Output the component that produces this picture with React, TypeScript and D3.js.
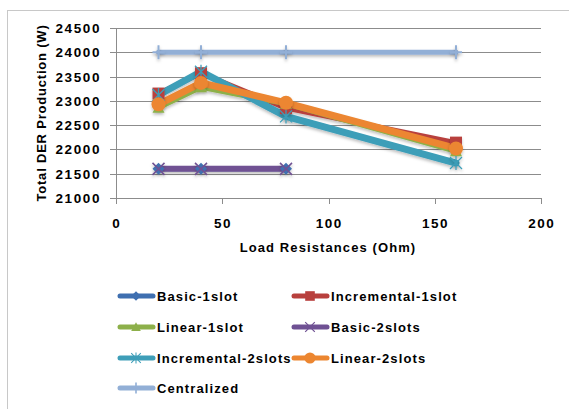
import React from "react";
import * as d3 from "d3";

const resistances = [20, 40, 80, 160];
const basic1 = [21600, 21600, 21600];
const incremental1 = [23150, 23570, 22850, 22140];
const linear1 = [22860, 23280, 22940, 21960];
const basic2 = [21600, 21600, 21600];
const incremental2 = [23120, 23600, 22680, 21720];
const linear2 = [22930, 23370, 22960, 22020];
const centralized = [24000, 24000, 24000, 24000];

const xTicks = [0, 50, 100, 150, 200];
const yTicks = [21000, 21500, 22000, 22500, 23000, 23500, 24000, 24500];

type Series = { name: string; values: number[]; color: string; width: number; marker: string };

const series: Series[] = [
  { name: "Basic-1slot", values: basic1, color: "#3F6FB0", width: 5, marker: "diamond" },
  { name: "Incremental-1slot", values: incremental1, color: "#B8403D", width: 5, marker: "square" },
  { name: "Linear-1slot", values: linear1, color: "#8DB04A", width: 5, marker: "triangle" },
  { name: "Basic-2slots", values: basic2, color: "#6F5193", width: 6, marker: "x" },
  { name: "Incremental-2slots", values: incremental2, color: "#3E9EB8", width: 7, marker: "star" },
  { name: "Linear-2slots", values: linear2, color: "#EC8630", width: 7, marker: "circle" },
  { name: "Centralized", values: centralized, color: "#92AFD6", width: 5, marker: "plus" },
];

const FONT = "'Liberation Sans', Arial, sans-serif";

function Marker({ type, x, y, color }: { type: string; x: number; y: number; color: string }) {
  switch (type) {
    case "diamond":
      return <path d={`M${x},${y - 6}L${x + 6},${y}L${x},${y + 6}L${x - 6},${y}Z`} fill={color} />;
    case "square":
      return <rect x={x - 6} y={y - 6} width={12} height={12} fill={color} />;
    case "triangle":
      return <path d={`M${x},${y - 6}L${x + 6},${y + 5}L${x - 6},${y + 5}Z`} fill={color} />;
    case "x":
      return (
        <path d={`M${x - 6},${y - 6}L${x + 6},${y + 6}M${x - 6},${y + 6}L${x + 6},${y - 6}`} stroke={color} strokeWidth={1.5} />
      );
    case "star":
      return (
        <path
          d={`M${x - 6},${y - 6}L${x + 6},${y + 6}M${x - 6},${y + 6}L${x + 6},${y - 6}M${x},${y - 7}L${x},${y + 7}`}
          stroke={color}
          strokeWidth={1.3}
        />
      );
    case "circle":
      return <circle cx={x} cy={y} r={7} fill={color} />;
    case "plus":
      return <path d={`M${x},${y - 7}L${x},${y + 7}M${x - 6},${y}L${x + 6},${y}`} stroke={color} strokeWidth={2} />;
    default:
      return null;
  }
}

export default function App() {
  const W = 569,
    H = 409;
  const x = d3.scaleLinear().domain([0, 200]).range([116, 541]);
  const y = d3.scaleLinear().domain([21000, 24500]).range([198, 28]);
  const line = d3
    .line<[number, number]>()
    .x((d) => x(d[0]))
    .y((d) => y(d[1]));

  const legendCols = [118, 292];
  const legendRows = [296, 327, 358, 388];

  return (
    <svg width={W} height={H} style={{ position: "absolute", left: 0, top: 0 }} fontFamily={FONT}>
      <defs>
        <filter id="sh" x="-20%" y="-20%" width="140%" height="160%">
          <feDropShadow dx="0" dy="2" stdDeviation="1.5" floodColor="#000" floodOpacity="0.25" />
        </filter>
      </defs>
      <rect x={0} y={0} width={W} height={H} fill="#fff" />
      <rect x={7.5} y={10.5} width={W} height={H} fill="none" stroke="#c8c8c8" strokeWidth={1} />
      {yTicks.map((t) => (
        <g key={t}>
          <line x1={110} x2={541} y1={Math.round(y(t)) + 0.5} y2={Math.round(y(t)) + 0.5} stroke="#8c8c8c" strokeWidth={1} />
          <text x={101} y={y(t) + 5} textAnchor="end" fontSize={13.5} fontWeight="bold" letterSpacing={1.6} fill="#000">
            {t}
          </text>
        </g>
      ))}
      <line x1={116.5} x2={116.5} y1={28} y2={198} stroke="#8c8c8c" />
      {xTicks.map((t) => (
        <g key={t}>
          <line x1={Math.round(x(t)) + 0.5} x2={Math.round(x(t)) + 0.5} y1={198} y2={204} stroke="#8c8c8c" />
          <text x={x(t) + 0.8} y={228} textAnchor="middle" fontSize={13.5} fontWeight="bold" letterSpacing={1.6} fill="#000">
            {t}
          </text>
        </g>
      ))}
      <text x={328} y={252} textAnchor="middle" fontSize={13} fontWeight="bold" letterSpacing={1.1}>
        Load Resistances (Ohm)
      </text>
      <text transform="translate(46,113) rotate(-90)" textAnchor="middle" fontSize={13} fontWeight="bold" letterSpacing={0.8}>
        Total DER Production (W)
      </text>
      <g filter="url(#sh)">
        {series.map((s) => (
          <path
            key={s.name}
            d={line(s.values.map((v, i) => [resistances[i], v] as [number, number])) || ""}
            fill="none"
            stroke={s.color}
            strokeWidth={s.width}
            strokeLinejoin="round"
            strokeLinecap="round"
          />
        ))}
      </g>
      <g filter="url(#sh)">
        {series.map((s) =>
          s.values.map((v, i) => (
            <Marker key={s.name + i} type={s.marker} x={x(resistances[i])} y={y(v)} color={s.color} />
          ))
        )}
      </g>
      {series.map((s, i) => {
        const lx = legendCols[i % 2];
        const ly = legendRows[Math.floor(i / 2)];
        return (
          <g key={s.name}>
            <line x1={lx + 2} x2={lx + 35} y1={ly} y2={ly} stroke={s.color} strokeWidth={5} strokeLinecap="round" />
            <g transform={`translate(${lx + 18},${ly}) scale(0.8) translate(${-(lx + 18)},${-ly})`}>
              <Marker type={s.marker} x={lx + 18} y={ly} color={s.color} />
            </g>
            <text x={lx + 39} y={ly + 5} fontSize={13} fontWeight="bold" letterSpacing={1.1}>
              {s.name}
            </text>
          </g>
        );
      })}
    </svg>
  );
}
